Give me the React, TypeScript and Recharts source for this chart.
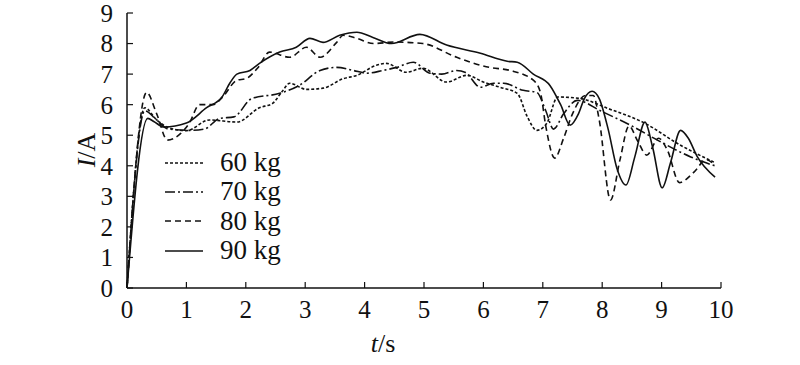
import { LineChart, Line, XAxis, YAxis, Label } from 'recharts'

const FONT = '"Liberation Serif", "Times New Roman", serif'
const INK = '#111'

const X_TICKS = [0, 1, 2, 3, 4, 5, 6, 7, 8, 9, 10]
const Y_TICKS = [0, 1, 2, 3, 4, 5, 6, 7, 8, 9]

const SERIES_NAMES = ['60 kg', '70 kg', '80 kg', '90 kg']
const DASHES = ['3 2', '10 3 2 3', '6 4', undefined]

// t (s) / I (A), one pair per mass
const T60 = [0, 0.3, 0.5, 0.7, 1.0, 1.39, 1.85, 2.23, 2.45, 2.6, 2.74, 3.02, 3.3, 3.64, 3.87, 4.2, 4.37, 4.7, 4.98, 5.38, 5.72, 6.0, 6.28, 6.57, 6.74, 6.9, 7.07, 7.25, 7.63, 8.09, 8.69, 9.32, 9.88]
const I60 = [0, 5.9, 5.5, 5.25, 5.15, 5.5, 5.43, 5.9, 6.04, 6.4, 6.7, 6.5, 6.54, 6.85, 6.96, 7.29, 7.35, 7.06, 7.19, 6.74, 6.96, 6.74, 6.57, 6.37, 5.6, 5.16, 5.4, 6.25, 6.2, 5.88, 5.42, 4.67, 4.12]

const T70 = [0, 0.3, 0.5, 0.7, 1.05, 1.3, 1.56, 1.8, 2.1, 2.57, 2.9, 3.25, 3.53, 3.81, 4.04, 4.31, 4.54, 4.82, 5.1, 5.3, 5.55, 5.7, 5.95, 6.17, 6.34, 6.67, 6.9, 7.05, 7.18, 7.35, 7.58, 7.97, 8.5, 8.93, 9.49, 9.77, 9.9]
const I70 = [0, 5.8, 5.5, 5.2, 5.16, 5.2, 5.55, 5.6, 6.2, 6.37, 6.63, 7.12, 7.22, 7.12, 7.03, 7.12, 7.22, 7.39, 7.03, 7.0, 7.12, 7.05, 6.57, 6.7, 6.7, 6.47, 6.4, 5.8, 5.2, 5.7, 6.14, 5.8, 5.3, 4.84, 4.29, 4.08, 4.0]

const T80 = [0, 0.33, 0.5, 0.68, 0.9, 1.05, 1.22, 1.45, 1.61, 1.85, 2.0, 2.2, 2.4, 2.74, 3.02, 3.25, 3.53, 3.64, 3.87, 4.15, 4.5, 4.98, 5.55, 6.1, 6.45, 6.84, 6.96, 7.05, 7.2, 7.35, 7.5, 7.72, 7.85, 7.95, 8.14, 8.3, 8.45, 8.6, 8.75, 8.95, 9.1, 9.3, 9.55, 9.75, 9.85]
const I80 = [0, 6.4, 5.7, 4.84, 5.05, 5.4, 6.0, 6.0, 6.25, 6.8, 6.85, 7.2, 7.72, 7.55, 7.88, 7.55, 8.04, 8.27, 8.17, 8.0, 8.05, 8.0, 7.55, 7.22, 7.12, 6.8, 6.4, 5.3, 4.25, 4.9, 5.7, 6.3, 6.3, 5.5, 2.88, 4.2, 5.3, 4.8, 4.35, 4.9, 4.5, 3.45, 3.8, 4.2, 4.1]

const T90 = [0, 0.35, 0.45, 0.62, 1.0, 1.34, 1.6, 1.73, 1.85, 2.07, 2.23, 2.57, 2.85, 3.08, 3.3, 3.58, 3.87, 4.14, 4.45, 4.93, 5.38, 5.95, 6.4, 6.57, 6.84, 7.12, 7.3, 7.46, 7.6, 7.7, 7.83, 7.95, 8.1, 8.25, 8.4, 8.55, 8.72, 8.85, 9.01, 9.15, 9.32, 9.45, 9.6, 9.9]
const I90 = [0, 5.55, 5.45, 5.27, 5.4, 5.9, 6.25, 6.7, 7.0, 7.12, 7.35, 7.72, 7.88, 8.17, 8.04, 8.27, 8.37, 8.2, 8.0, 8.3, 7.95, 7.68, 7.42, 7.39, 7.0, 6.63, 6.0, 5.33, 5.7, 6.2, 6.44, 6.2, 5.2, 3.9, 3.37, 4.3, 5.43, 4.6, 3.28, 4.1, 5.16, 4.9, 4.3, 3.63]

const toPoints = (ts: number[], is: number[]) => ts.map((t, k) => ({ t, i: is[k] }))
const SERIES = [toPoints(T60, I60), toPoints(T70, I70), toPoints(T80, I80), toPoints(T90, I90)]

const tickStyle = { fontFamily: FONT, fontSize: 25, fill: INK }

// legend sits inside the plot, lower left
function LegendBox() {
  return (
    <div style={{ position: 'absolute', left: 165, top: 148, fontFamily: FONT, fontSize: 27, color: INK, lineHeight: 1 }}>
      {SERIES_NAMES.map((name, k) => (
        <div key={name} style={{ display: 'flex', alignItems: 'center', height: 29.3 }}>
          <svg width={38} height={4}>
            <line x1={0} x2={38} y1={2} y2={2} stroke={INK} strokeWidth={1.6} strokeDasharray={DASHES[k]} />
          </svg>
          <span style={{ marginLeft: 17 }}>{name}</span>
        </div>
      ))}
    </div>
  )
}

export default function App() {
  return (
    <div style={{ position: 'absolute', left: 0, top: 0, width: 800, height: 365, background: '#fff' }}>
      <LineChart width={800} height={365} margin={{ top: 13, right: 79, left: 67, bottom: 47 }}>
        <XAxis
          type="number"
          dataKey="t"
          domain={[0, 10]}
          ticks={X_TICKS}
          interval={0}
          height={30}
          tick={tickStyle}
          tickSize={-6}
          tickMargin={18}
          axisLine={{ stroke: INK, strokeWidth: 1.5 }}
          tickLine={{ stroke: INK, strokeWidth: 1.2 }}
        >
          <Label
            content={() => (
              <text x={383} y={352} textAnchor="middle" fontFamily={FONT} fontSize={26} fill={INK}>
                <tspan fontStyle="italic">t</tspan>/s
              </text>
            )}
          />
        </XAxis>
        <YAxis
          type="number"
          dataKey="i"
          domain={[0, 9]}
          ticks={Y_TICKS}
          interval={0}
          width={60}
          tick={tickStyle}
          tickSize={-6}
          tickMargin={20}
          axisLine={{ stroke: INK, strokeWidth: 1.5 }}
          tickLine={{ stroke: INK, strokeWidth: 1.2 }}
        >
          <Label
            content={() => (
              <text x={95} y={150} transform="rotate(-90 95 150)" textAnchor="middle" fontFamily={FONT} fontSize={26} fill={INK}>
                <tspan fontStyle="italic">I</tspan>/A
              </text>
            )}
          />
        </YAxis>
        {SERIES.map((pts, k) => (
          <Line
            key={SERIES_NAMES[k]}
            name={SERIES_NAMES[k]}
            data={pts}
            dataKey="i"
            type="monotone"
            dot={false}
            stroke={INK}
            strokeWidth={1.6}
            strokeDasharray={DASHES[k]}
            isAnimationActive={false}
          />
        ))}
      </LineChart>
      <LegendBox />
    </div>
  )
}
